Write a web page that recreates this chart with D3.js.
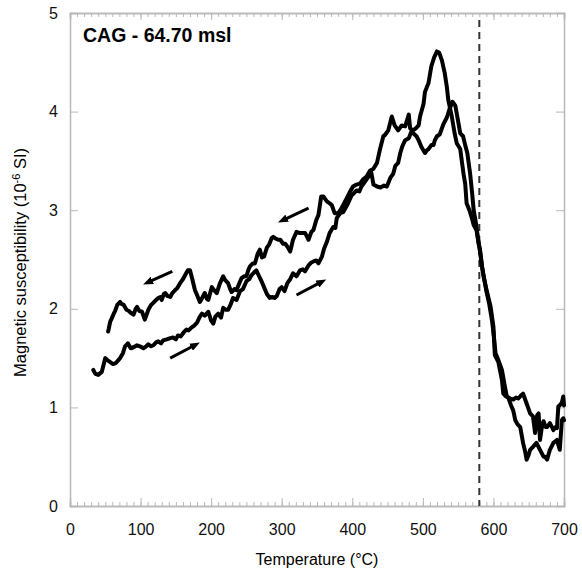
<!DOCTYPE html>
<html>
<head>
<meta charset="utf-8">
<script src="https://cdn.jsdelivr.net/npm/d3@7/dist/d3.min.js"></script>
<style>
    body { margin: 0; background: #fff; }
    text { font-family: "Liberation Sans", Arial, sans-serif; }
</style>
</head>
<body>
<svg id="canvas" width="582" height="569"></svg>
<script>
// heating run (T in °C, susceptibility in 10^-6 SI)
var heatT = [33,36,40,45,50,53,57,61,65,71,75,78,82,86,90,95,99,104,108,111,115,118,122,125,129,132,137,141,146,150,153,157,161,165,168,172,176,180,184,187,191,196,200,203,206,210,214,217,221,224,228,231,236,241,245,250,254,257,261,264,268,272,276,279,283,287,290,293,297,300,304,308,312,316,321,326,330,333,338,342,345,349,352,357,360,364,368,373,376,378,383,387,391,394,399,402,406,410,413,418,423,427,430,435,440,445,449,454,458,461,465,468,471,475,480,484,488,491,494,498,503,506,508,512,515,517,520,524,529,534,538,542,546,550,553,557,560,563,567,570,572,575,578,581,584,587,590,594,598,600,603,607,612,616,619,624,628,632,635,639,642,645,647,650,652,656,659,662,664,666,669,671,674,676,680,683,685,688,690,692,695,697,699,700]
var heatK = [1.38,1.34,1.33,1.36,1.50,1.48,1.46,1.44,1.45,1.50,1.55,1.62,1.65,1.60,1.61,1.63,1.62,1.60,1.62,1.64,1.62,1.63,1.66,1.67,1.65,1.68,1.69,1.70,1.71,1.69,1.73,1.72,1.76,1.79,1.78,1.81,1.83,1.86,1.92,1.95,1.93,1.97,1.88,1.85,1.92,1.95,1.91,2.01,1.99,1.99,2.05,2.11,2.09,2.18,2.20,2.28,2.30,2.34,2.37,2.39,2.33,2.27,2.20,2.15,2.11,2.12,2.11,2.13,2.20,2.22,2.18,2.26,2.30,2.36,2.33,2.39,2.40,2.38,2.44,2.47,2.48,2.49,2.46,2.53,2.61,2.68,2.77,2.83,2.82,2.92,2.97,2.98,3.03,3.07,3.15,3.17,3.20,3.19,3.24,3.29,3.34,3.38,3.26,3.24,3.23,3.25,3.24,3.33,3.37,3.45,3.48,3.58,3.65,3.71,3.73,3.80,3.77,3.75,3.71,3.64,3.58,3.61,3.62,3.66,3.66,3.71,3.75,3.77,3.87,3.94,4.03,4.10,4.06,3.90,3.78,3.75,3.66,3.58,3.37,3.16,3.00,2.88,2.72,2.58,2.42,2.30,2.18,2.05,1.88,1.76,1.55,1.48,1.38,1.22,1.11,1.09,1.08,1.10,1.09,1.12,1.14,1.08,1.04,0.98,0.94,0.91,0.74,0.92,0.94,0.67,0.82,0.86,0.80,0.80,0.84,0.80,0.77,0.80,0.79,1.01,1.03,1.05,1.11,1.02]

// cooling run
var coolT = [54,55,57,59,62,64,67,71,73,76,80,83,86,90,93,95,98,102,106,109,111,115,118,122,125,128,130,133,135,138,142,145,149,152,156,160,163,167,170,173,177,180,184,188,191,194,196,199,201,204,208,212,217,220,224,227,229,233,236,240,243,247,250,253,255,259,262,266,269,272,275,279,282,286,288,292,295,298,302,305,309,312,316,321,325,328,333,336,338,342,345,349,352,356,359,364,368,371,375,380,383,387,392,397,401,406,411,415,420,425,430,435,439,444,446,451,456,460,465,470,475,480,482,486,490,494,496,501,503,508,512,516,520,523,527,531,534,536,541,545,548,553,555,558,560,562,566,569,572,576,579,581,584,586,590,593,596,600,602,607,612,614,618,621,625,628,631,634,638,642,645,647,650,652,656,661,666,671,673,676,680,685,690,694,697,699,700]
var coolK = [1.77,1.80,1.87,1.90,1.95,1.98,2.04,2.07,2.05,2.04,1.99,1.98,1.96,1.94,2.00,2.02,1.98,1.97,1.89,1.95,1.99,2.04,2.06,2.09,2.11,2.12,2.09,2.15,2.16,2.13,2.12,2.16,2.19,2.21,2.26,2.30,2.34,2.39,2.39,2.31,2.19,2.14,2.07,2.12,2.16,2.10,2.09,2.17,2.22,2.19,2.16,2.25,2.33,2.29,2.26,2.20,2.17,2.20,2.19,2.26,2.31,2.33,2.33,2.40,2.43,2.46,2.46,2.56,2.60,2.52,2.53,2.62,2.65,2.72,2.73,2.71,2.70,2.70,2.66,2.66,2.62,2.58,2.70,2.78,2.77,2.77,2.77,2.73,2.70,2.78,2.80,2.90,2.95,3.14,3.14,3.09,3.07,3.05,2.97,2.97,3.00,3.05,3.12,3.19,3.24,3.26,3.27,3.31,3.34,3.40,3.42,3.48,3.61,3.75,3.76,3.81,3.95,3.86,3.81,3.86,3.85,3.97,3.83,3.81,3.83,3.86,3.95,4.08,4.20,4.29,4.46,4.55,4.61,4.60,4.52,4.39,4.25,4.12,3.95,3.78,3.68,3.62,3.51,3.35,3.27,3.07,3.00,2.93,2.85,2.80,2.66,2.60,2.42,2.33,2.20,2.11,2.02,1.82,1.53,1.46,1.28,1.14,1.11,1.10,1.02,0.97,0.87,0.83,0.80,0.64,0.55,0.47,0.52,0.57,0.60,0.64,0.57,0.50,0.50,0.47,0.57,0.64,0.67,0.57,0.87,0.89,0.87]

var xTicks = [0, 100, 200, 300, 400, 500, 600, 700]
var yTicks = [0, 1, 2, 3, 4, 5]
var curieT = 580

// direction arrows: [T start, k start, T end, k end]
var arrows = [
    [145, 2.38, 114, 2.28],
    [142, 1.50, 174, 1.62],
    [338, 3.02, 305, 2.91],
    [321, 2.14, 353, 2.26]
]

var title = "CAG - 64.70 msl"

var width = 582, height = 569
var margin = {left: 70, right: 18, top: 13, bottom: 63}
var axisColor = "#b8b8b8"

var svg = d3.select("#canvas")

var x = d3.scaleLinear()
            .domain([0, 700])
            .range([margin.left, width - margin.right])

var y = d3.scaleLinear()
            .domain([0, 5])
            .range([height - margin.bottom, margin.top])

function styleAxis(g)
{
    g.select(".domain").attr("stroke", axisColor).attr("stroke-width", 1.5)
    g.selectAll(".tick line").attr("stroke", axisColor).attr("stroke-width", 1)
    g.selectAll(".tick text")
        .attr("fill", "#111")
        .style("font-size", "16px")
        .style("font-family", "'Liberation Sans', Arial, sans-serif")
}

var minorX = d3.range(0, 701, 10)

// bottom axis: minor then major
svg.append("g")
    .attr("transform", "translate(0," + y(0) + ")")
    .call(d3.axisBottom(x).tickValues(minorX).tickSize(-4).tickFormat(""))
    .call(styleAxis)

svg.append("g")
    .attr("transform", "translate(0," + y(0) + ")")
    .call(d3.axisBottom(x).tickValues(xTicks).tickSize(-8).tickPadding(18).tickFormat(d3.format("d")))
    .call(styleAxis)

// top axis
svg.append("g")
    .attr("transform", "translate(0," + y(5) + ")")
    .call(d3.axisTop(x).tickValues(minorX).tickSize(-4).tickFormat(""))
    .call(styleAxis)

svg.append("g")
    .attr("transform", "translate(0," + y(5) + ")")
    .call(d3.axisTop(x).tickValues(xTicks).tickSize(-7).tickFormat(""))
    .call(styleAxis)

// left axis
svg.append("g")
    .attr("transform", "translate(" + x(0) + ",0)")
    .call(d3.axisLeft(y).tickValues(yTicks).tickSize(-8).tickPadding(12).tickFormat(d3.format("d")))
    .call(styleAxis)

// right axis
svg.append("g")
    .attr("transform", "translate(" + x(700) + ",0)")
    .call(d3.axisRight(y).tickValues(yTicks).tickSize(-8).tickFormat(""))
    .call(styleAxis)

// Curie temperature of magnetite
svg.append("line")
    .attr("x1", x(curieT)).attr("x2", x(curieT))
    .attr("y1", y(4.93)).attr("y2", y(0))
    .attr("stroke", "#333")
    .attr("stroke-width", 2)
    .attr("stroke-dasharray", "7,5")

var line = d3.line()
            .x(function(d){ return x(d[0]) })
            .y(function(d){ return y(d[1]) })

var heating = heatT.map(function(t, i){ return [t, heatK[i]] })
var cooling = coolT.map(function(t, i){ return [t, coolK[i]] })

svg.selectAll("path.run")
    .data([heating, cooling])
    .enter()
        .append("path")
        .attr("class", "run")
        .attr("d", line)
        .attr("fill", "none")
        .attr("stroke", "#000")
        .attr("stroke-width", 4)
        .attr("stroke-linejoin", "round")
        .attr("stroke-linecap", "round")

// arrow heads
svg.append("defs")
    .append("marker")
        .attr("id", "head")
        .attr("markerUnits", "userSpaceOnUse")
        .attr("viewBox", "0 -4 10 8")
        .attr("refX", 2)
        .attr("refY", 0)
        .attr("markerWidth", 10)
        .attr("markerHeight", 8)
        .attr("orient", "auto")
    .append("path")
        .attr("d", "M0,-4L10,0L0,4Z")
        .attr("fill", "#000")

svg.selectAll("line.arrow")
    .data(arrows)
    .enter()
        .append("line")
        .attr("class", "arrow")
        .attr("x1", function(d){ return x(d[0]) })
        .attr("y1", function(d){ return y(d[1]) })
        .attr("x2", function(d){ return x(d[2]) })
        .attr("y2", function(d){ return y(d[3]) })
        .attr("stroke", "#000")
        .attr("stroke-width", 3)
        .attr("marker-end", "url(#head)")

svg.append("text")
    .attr("x", 83)
    .attr("y", 42)
    .attr("font-weight", "bold")
    .style("font-size", "19.5px")
    .text(title)

svg.append("text")
    .attr("x", x(350))
    .attr("y", 565)
    .attr("text-anchor", "middle")
    .style("font-size", "16px")
    .text("Temperature (°C)")

var ylab = svg.append("text")
    .attr("transform", "translate(26," + y(2.47) + ") rotate(-90)")
    .attr("text-anchor", "middle")
    .style("font-size", "16.5px")

ylab.append("tspan").text("Magnetic susceptibility (10")
ylab.append("tspan").attr("dy", -6).style("font-size", "11px").text("-6")
ylab.append("tspan").attr("dy", 6).text(" SI)")
</script>
</body>
</html>
